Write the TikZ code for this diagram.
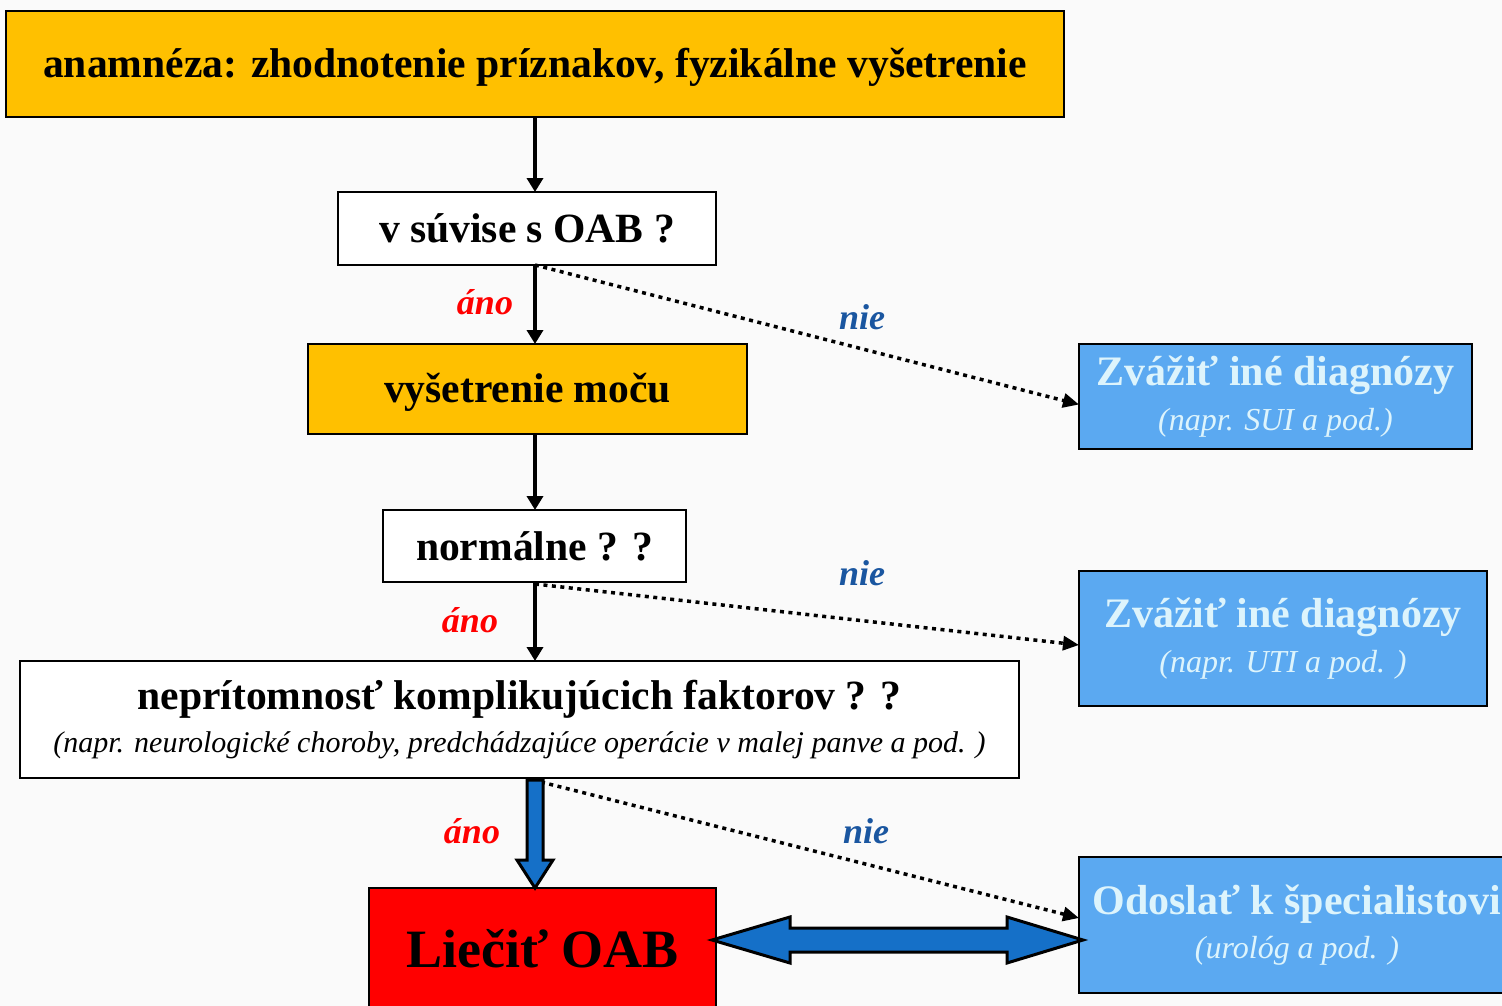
\documentclass[tikz,border=0pt]{standalone}
\usepackage{fontspec}
\setmainfont{Liberation Serif}
\usetikzlibrary{arrows.meta,calc}
\definecolor{orng}{HTML}{FFC000}
\definecolor{bluebox}{HTML}{5BA9F1}
\definecolor{bluetxt}{HTML}{DDF4FC}
\definecolor{nieblue}{HTML}{1A56A0}
\definecolor{fatblue}{HTML}{1570C8}
\definecolor{bgc}{HTML}{FAFAFA}
\begin{document}
\begin{tikzpicture}[x=1pt,y=-1pt,
  box/.style={draw=black,line width=2pt,inner sep=0pt,outer sep=0pt,align=center},
  main/.style={font=\fontsize{41.6}{46}\selectfont\bfseries},
  sidebox/.style={box,fill=bluebox,text=bluetxt},
  arr/.style={line width=3.5pt,-{Triangle[length=14pt,width=16pt]}},
  dotarr/.style={line width=3.5pt,dash pattern=on 4pt off 4.5pt,-{Triangle[length=16pt,width=14pt]}},
  yes/.style={text=red,font=\fontsize{36}{40}\selectfont\bfseries\itshape},
  no/.style={text=nieblue,font=\fontsize{36}{40}\selectfont\bfseries\itshape},
  fat/.style={fill=fatblue,draw=black,line width=3pt,line join=miter}
]
\useasboundingbox (0,0) rectangle (1502,1006);
\fill[bgc] (0,0) rectangle (1502,1006);
\clip (0,0) rectangle (1502,1006);

% main column
\node[box,main,fill=orng,minimum width=1058pt,minimum height=106pt,text depth=3pt] (n1) at (535,64)
  {anamnéza: zhodnotenie príznakov, fyzikálne vyšetrenie};
\node[box,main,fill=white,minimum width=378pt,minimum height=73pt] (n2) at (527,228.5)
  {v súvise s OAB ?};
\node[box,main,fill=orng,minimum width=439pt,minimum height=90pt,text depth=3pt] (n3) at (527.5,389)
  {vyšetrenie moču};
\node[box,main,fill=white,minimum width=303pt,minimum height=72pt] (n4) at (534.5,546)
  {normálne ? ?};
\node[box,fill=white,minimum width=999pt,minimum height=117pt] (n5) at (519.5,719.5)
  {\fontsize{41.6}{46}\selectfont\bfseries neprítomnosť komplikujúcich faktorov ? ?\\[12pt]
   \fontsize{30}{36}\selectfont\itshape (napr. neurologické choroby, predchádzajúce operácie v malej panve a pod. )};
\node[box,fill=red,minimum width=347pt,minimum height=122pt,font=\fontsize{54}{58}\selectfont\bfseries] (n6) at (542.5,949)
  {Liečiť OAB};

% side boxes
\node[sidebox,minimum width=393pt,minimum height=105pt] (b1) at (1275.5,396.5)
  {\fontsize{42}{46}\selectfont\bfseries Zvážiť iné diagnózy\\[13pt]
   \fontsize{32}{36}\selectfont\itshape (napr. SUI a pod.)};
\node[sidebox,minimum width=408pt,minimum height=135pt] (b2) at (1283,638.5)
  {\fontsize{42}{46}\selectfont\bfseries Zvážiť iné diagnózy\\[12pt]
   \fontsize{32}{36}\selectfont\itshape (napr. UTI a pod. )};
\node[sidebox,minimum width=436pt,minimum height=136pt] (b3) at (1297,925)
  {\fontsize{42}{46}\selectfont\bfseries Odoslať k špecialistovi\\[12pt]
   \fontsize{32}{36}\selectfont\itshape (urológ a pod. )};

% solid connectors
\draw[arr] (n1.south) -- (n1.south |- n2.north);
\draw[arr] (n1.south |- n2.south) -- (n1.south |- n3.north);
\draw[arr] (n1.south |- n3.south) -- (n1.south |- n4.north);
\draw[arr] (n1.south |- n4.south) -- (n1.south |- n5.north);

% dotted connectors
\draw[dotarr] (n1.south |- n2.south) -- ([yshift=-8pt]b1.west);
\draw[dotarr] ([yshift=-2pt]n1.south |- n4.south) -- ([yshift=-6.5pt]b2.west);
\draw[dotarr] ([xshift=6pt,yshift=-4pt]n1.south |- n5.south) -- ([yshift=7pt]b3.west);

% fat arrow down
\coordinate (fa) at (n1.south |- n5.south);
\coordinate (fb) at (n1.south |- n6.north);
\draw[fat] ($(fa)+(-8,2)$) -- ($(fb)+(-8,-28)$) -- ($(fb)+(-18,-28)$) -- (fb)
  -- ($(fb)+(18,-28)$) -- ($(fb)+(8,-28)$) -- ($(fa)+(8,2)$) -- cycle;

% double arrow
\coordinate (da) at ([yshift=9pt]n6.east);
\coordinate (db) at (b3.west |- da);
\draw[fat] ($(da)+(-4,0)$) -- ($(da)+(74,-23)$) -- ($(da)+(74,-12)$) -- ($(db)+(-72,-12)$)
  -- ($(db)+(-72,-23)$) -- ($(db)+(4,0)$) -- ($(db)+(-72,23)$) -- ($(db)+(-72,12)$)
  -- ($(da)+(74,12)$) -- ($(da)+(74,23)$) -- cycle;

% labels
\node[yes] (y1) at (485,302) {áno};
\node[yes] (y2) at (470,620) {áno};
\node[yes] (y3) at (472,831) {áno};
\node[no] (m1) at (862,317) {nie};
\node[no] (m2) at (862,573) {nie};
\node[no] (m3) at (866,831) {nie};
\end{tikzpicture}
\end{document}
